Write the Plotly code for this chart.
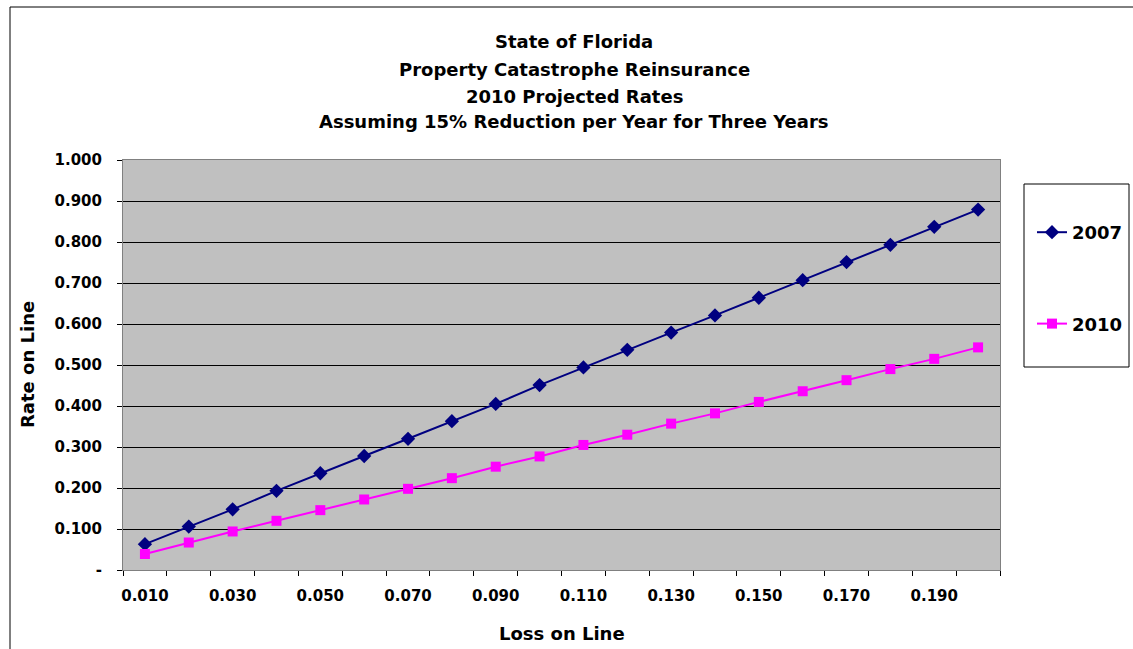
import plotly.graph_objects as go

# ---- data ----
loss_on_line = ["0.010", "0.020", "0.030", "0.040", "0.050", "0.060", "0.070", "0.080", "0.090", "0.100",
                "0.110", "0.120", "0.130", "0.140", "0.150", "0.160", "0.170", "0.180", "0.190", "0.200"]
rate_2007 = [0.063, 0.106, 0.148, 0.193, 0.236, 0.278, 0.320, 0.363, 0.405, 0.451,
             0.494, 0.537, 0.579, 0.621, 0.664, 0.707, 0.751, 0.793, 0.837, 0.879]
rate_2010 = [0.039, 0.067, 0.094, 0.120, 0.146, 0.172, 0.198, 0.224, 0.252, 0.277,
             0.305, 0.330, 0.357, 0.382, 0.410, 0.436, 0.463, 0.490, 0.515, 0.543]
x_ticktext = [c if i % 2 == 0 else "" for i, c in enumerate(loss_on_line)]
y_tickvals = [0.0, 0.1, 0.2, 0.3, 0.4, 0.5, 0.6, 0.7, 0.8, 0.9, 1.0]
y_ticktext = ["-", "0.100", "0.200", "0.300", "0.400", "0.500", "0.600", "0.700", "0.800", "0.900", "1.000"]
title_lines = ["State of Florida", "Property Catastrophe Reinsurance", "2010 Projected Rates",
               "Assuming 15% Reduction per Year for Three Years"]

W, H = 1133, 649
L, R, T, B = 123, 1000, 160, 570
FONT = "DejaVu Sans"


def px_x(p):
    return (p - L) / (R - L)


def px_y(p):
    return (B - p) / (B - T)


fig = go.Figure()
fig.add_trace(go.Scatter(
    x=loss_on_line, y=rate_2007, name="2007", mode="lines+markers", legendgroup="a",
    line=dict(color="#000080", width=2),
    marker=dict(symbol="diamond", size=11, color="#000080"),
))
fig.add_trace(go.Scatter(
    x=loss_on_line, y=rate_2010, name="2010", mode="lines+markers", legendgroup="b",
    line=dict(color="#FF00FF", width=2),
    marker=dict(symbol="square", size=10, color="#FF00FF"),
))

annotations = []
title_y = [42, 69, 96, 122]
for txt, yy in zip(title_lines, title_y):
    annotations.append(dict(text="<b>%s</b>" % txt, x=px_x(574), y=px_y(yy), xref="paper", yref="paper",
                            xanchor="center", yanchor="middle", showarrow=False,
                            font=dict(family=FONT, size=18, color="black")))
annotations.append(dict(text="<b>Loss on Line</b>", x=px_x(562), y=px_y(633), xref="paper", yref="paper",
                        xanchor="center", yanchor="middle", showarrow=False,
                        font=dict(family=FONT, size=18, color="black")))
annotations.append(dict(text="<b>Rate on Line</b>", x=px_x(27), y=px_y(365), xref="paper", yref="paper",
                        xanchor="center", yanchor="middle", showarrow=False, textangle=-90,
                        font=dict(family=FONT, size=18, color="black")))

shapes = [
    dict(type="rect", xref="paper", yref="paper", x0=px_x(10), x1=px_x(1145), y0=px_y(7), y1=px_y(665),
         line=dict(color="black", width=1), fillcolor="rgba(0,0,0,0)", layer="below"),
    dict(type="rect", xref="paper", yref="paper", x0=px_x(1024), x1=px_x(1129), y0=px_y(184), y1=px_y(367),
         line=dict(color="black", width=1), fillcolor="rgba(0,0,0,0)"),
]

fig.update_layout(
    width=W, height=H,
    margin=dict(l=L, r=W - R, t=T, b=H - B, pad=0, autoexpand=False),
    paper_bgcolor="white", plot_bgcolor="#C0C0C0",
    font=dict(family=FONT, color="black"),
    showlegend=True,
    legend=dict(xref="container", yref="container", x=1032 / W, y=1 - 214 / H, xanchor="left", yanchor="top",
                font=dict(family=FONT, size=18, color="black", weight="bold"),
                bgcolor="rgba(0,0,0,0)", borderwidth=0, tracegroupgap=65, traceorder="grouped"),
    annotations=annotations, shapes=shapes,
    xaxis=dict(type="category", tickvals=loss_on_line, ticktext=x_ticktext, tickson="boundaries",
               ticks="outside", ticklen=5, tickcolor="black", showgrid=False, zeroline=False,
               showline=True, linecolor="#808080", linewidth=1, mirror=True, tickangle=0,
               tickfont=dict(family=FONT, size=15, color="black", weight="bold"),
               ticklabelstandoff=12, range=[-0.5, 19.5], automargin=False),
    yaxis=dict(range=[0, 1], tickvals=y_tickvals, ticktext=y_ticktext,
               ticks="outside", ticklen=5, tickcolor="black",
               showgrid=True, gridcolor="black", gridwidth=1, zeroline=False,
               showline=True, linecolor="#808080", linewidth=1, mirror=True,
               tickfont=dict(family=FONT, size=15, color="black", weight="bold"),
               ticklabelstandoff=12, automargin=False),
)

fig.write_html("out.html", config={"displayModeBar": False},
               post_script="document.body.style.margin='0';document.body.style.overflow='hidden';")
